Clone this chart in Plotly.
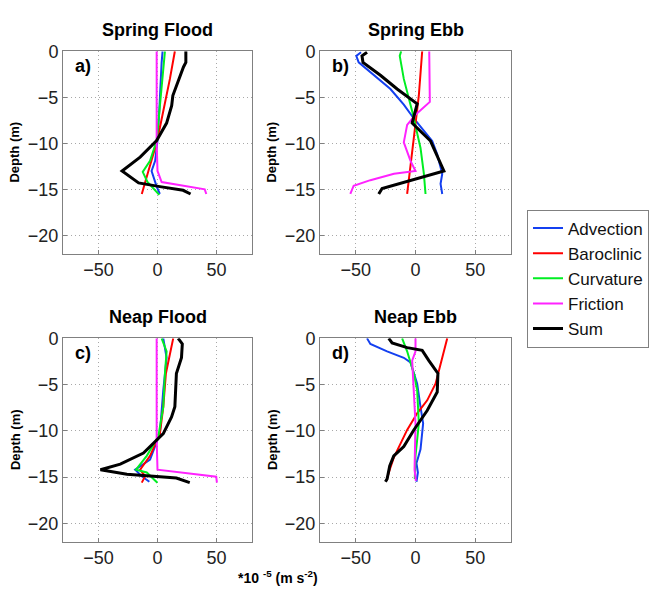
import plotly.graph_objects as go

W, H = 653, 592

# ---------------- data (x: *1e-5 m s^-2, depth: m) ----------------
# Panel a) Spring Flood
a_adv_x = [4.3, 3.5, 1.5, 0, -2, -5, -0.7, 2]
a_adv_d = [0, -1.2, -6.5, -9.7, -11.9, -13, -14.7, -15.5]
a_bar_x = [14.7, 10.5, 2, -2, -7.7, -10.5, -13.3]
a_bar_d = [0, -3, -8.3, -10.5, -13, -14.4, -15.5]
a_cur_x = [6.3, 5.5, 2, -0.7, -6.3, -12.5, -8.5, -2, 1.5]
a_cur_d = [0, -1.2, -6.5, -9.7, -11.9, -13.1, -14.2, -15.1, -15.6]
a_fri_x = [-0.7, -0.7, 0, 3.5, 40, 41.3]
a_fri_d = [0, -10, -13, -14.2, -15, -15.5]
a_sum_x = [24, 24, 22, 13, 12, 7.7, -0.7, -14.7, -30, -16, 2, 21.7, 28]
a_sum_d = [0, -1.2, -1.7, -4.8, -5.9, -7.8, -9.7, -11.5, -13, -14.3, -14.7, -15.1, -15.5]

# Panel b) Spring Ebb
b_adv_x = [-45.6, -49.6, -47.6, -37.8, -21, -9.8, -1.4, 14, 18.2, 22.4, 21, 22.4]
b_adv_d = [-0.1, -0.5, -1.2, -2.3, -4.1, -5.8, -7.3, -9.75, -11.2, -13.3, -14.4, -15.5]
b_bar_x = [5.6, 2.8, -1.4, -5.6, -7]
b_bar_d = [0, -4.8, -9.4, -14, -15.5]
b_cur_x = [-12, -13.2, -9.8, -2.8, 4.2, 7, 8.4]
b_cur_d = [0, -0.5, -3, -6.5, -10.5, -13.3, -15.5]
b_fri_x = [11.5, 12, 0, -7, -9.8, -4.2, 0, -18, -37.8, -51.8, -54.6]
b_fri_d = [0, -5.5, -6.9, -8, -9.9, -11.9, -13, -13.3, -14, -14.6, -15.5]
b_sum_x = [-40.6, -44.8, -44, -29.4, -15.4, 1.4, -2.8, 12.6, 23.8, 12.6, -15.4, -28, -30.8]
b_sum_d = [-0.1, -0.5, -1.2, -2.6, -4.1, -5.7, -7.8, -9.75, -13, -13.4, -14.4, -14.9, -15.5]

# Panel c) Neap Flood
c_adv_x = [4.9, 7.7, 4.9, 2, -6.3, -18.9, -13.3, -6.9]
c_adv_d = [0, -2.1, -5.6, -10.3, -13.1, -14.2, -14.9, -15.5]
c_bar_x = [13.3, 11, 7.1, 4.9, 2, -6.3, -14.7, -10.5, -13.3]
c_bar_d = [0, -1.4, -3.8, -7.4, -10.3, -12.7, -14.2, -14.9, -15.6]
c_cur_x = [3.5, 7.7, 6.3, 4.9, 0.7, -9.1, -18.2, -9.1, -0.1]
c_cur_d = [0, -1.4, -3.8, -7.4, -10.6, -12.7, -14.2, -14.5, -15.6]
c_fri_x = [-0.7, -0.7, 0, 49.7, 50.3]
c_fri_d = [0, -11, -14.2, -14.95, -15.6]
c_sum_x = [17.5, 21, 20.3, 16, 14.7, 11.9, 4.9, -11.9, -31.5, -48.3, -25.9, 16, 27.3]
c_sum_d = [0, -0.6, -2.1, -3.8, -7.4, -8.5, -10.3, -12.4, -13.6, -14.2, -14.7, -15.1, -15.6]

# Panel d) Neap Ebb
d_adv_x = [-40.6, -37.8, -23.8, -9.8, -4.2, 1.4, 4.2, 6.4, 4.2, 0.8, 2, 0.8]
d_adv_d = [0, -0.6, -1.4, -2.1, -2.6, -4.9, -7.4, -9.2, -12, -13.5, -14.5, -15.5]
d_bar_x = [26.6, 23.8, 20.4, 16.8, 9.8, 1.4, -7, -14, -18.2, -21.6, -24.4]
d_bar_d = [0, -1.4, -2.8, -4.9, -6.7, -8.1, -9.9, -11.7, -12.9, -14.2, -15.4]
d_cur_x = [-11.2, -7, -1.4, 1.4, 2.8, 0, -0.6]
d_cur_d = [0, -1.4, -3.8, -5.6, -9.2, -12.7, -15.2]
d_fri_x = [0, 0, -2.8, -1.4, 0, -0.8, 0.3]
d_fri_d = [0, -1.4, -2.4, -5.6, -9.2, -14.2, -15.4]
d_sum_x = [-22.4, -19.6, -7, 5.6, 11.2, 18.8, 18.2, 9.8, -1.4, -9.8, -18.2, -21.6, -23.8, -25.2]
d_sum_d = [0, -0.5, -1, -1.3, -2.4, -3.8, -5.8, -7.8, -9.9, -11.7, -12.7, -13.8, -15.2, -15.5]

series_names = ["Advection", "Baroclinic", "Curvature", "Friction", "Sum"]
panel_titles = ["Spring Flood", "Spring Ebb", "Neap Flood", "Neap Ebb"]
panel_letters = ["a)", "b)", "c)", "d)"]
x_ticks = [-50, 0, 50]
y_ticks = [-20, -15, -10, -5, 0]

panels = [
    [(a_adv_x, a_adv_d), (a_bar_x, a_bar_d), (a_cur_x, a_cur_d), (a_fri_x, a_fri_d), (a_sum_x, a_sum_d)],
    [(b_adv_x, b_adv_d), (b_bar_x, b_bar_d), (b_cur_x, b_cur_d), (b_fri_x, b_fri_d), (b_sum_x, b_sum_d)],
    [(c_adv_x, c_adv_d), (c_bar_x, c_bar_d), (c_cur_x, c_cur_d), (c_fri_x, c_fri_d), (c_sum_x, c_sum_d)],
    [(d_adv_x, d_adv_d), (d_bar_x, d_bar_d), (d_cur_x, d_cur_d), (d_fri_x, d_fri_d), (d_sum_x, d_sum_d)],
]

# ---------------- styling ----------------
colors = ["#1440f0", "#ff0000", "#00ee22", "#ff22ff", "#000000"]
widths = [2, 2, 2, 2, 3]
FONT = "Liberation Sans, Arial, sans-serif"

# panel pixel boxes (left, right, top, bottom)
boxes = [(63, 252, 42, 248), (320, 511, 42, 248), (63, 252, 334, 541), (320, 511, 334, 541)]

fig = go.Figure()
layout = dict(
    width=W, height=H,
    margin=dict(l=0, r=0, t=0, b=0),
    paper_bgcolor="white", plot_bgcolor="white",
    font=dict(family=FONT, size=18, color="#222"),
    showlegend=True,
    legend=dict(
        x=527 / W, y=1 - 203 / H, xanchor="left", yanchor="top",
        bordercolor="#808080", borderwidth=1, bgcolor="white",
        font=dict(family=FONT, size=17, color="#111"),
        itemwidth=30, tracegroupgap=0,
    ),
)
annotations = []

for p, (series, box) in enumerate(zip(panels, boxes)):
    l, r, t, b = box
    xa = "xaxis" if p == 0 else f"xaxis{p+1}"
    ya = "yaxis" if p == 0 else f"yaxis{p+1}"
    xref = "x" if p == 0 else f"x{p+1}"
    yref = "y" if p == 0 else f"y{p+1}"
    layout[xa] = dict(
        domain=[l / W, r / W], anchor=yref, range=[-80, 80],
        tickvals=x_ticks, ticks="inside", ticklen=4, tickcolor="#808080",
        showline=True, linecolor="#808080", linewidth=1, mirror=True,
        showgrid=True, gridcolor="#a8a8a8", griddash="1px,3px", gridwidth=1,
        zeroline=False, tickfont=dict(size=18, color="#222"),
    )
    layout[ya] = dict(
        domain=[1 - b / H, 1 - t / H], anchor=xref, range=[-22, 0],
        tickvals=y_ticks, ticks="inside", ticklen=4, tickcolor="#808080",
        showline=True, linecolor="#808080", linewidth=1, mirror=True,
        showgrid=True, gridcolor="#a8a8a8", griddash="1px,3px", gridwidth=1,
        zeroline=False, tickfont=dict(size=18, color="#222"),
    )
    for k, (xs, ds) in enumerate(series):
        fig.add_trace(go.Scatter(
            x=xs, y=ds, mode="lines", name=series_names[k],
            line=dict(color=colors[k], width=widths[k]),
            xaxis=xref, yaxis=yref, showlegend=(p == 0),
        ))
    cx = (l + r) / 2
    annotations.append(dict(text=f"<b>{panel_titles[p]}</b>", x=cx / W, y=1 - 20 / H if p < 2 else 1 - 312 / H,
                            xref="paper", yref="paper", showarrow=False, xanchor="center", yanchor="middle",
                            font=dict(size=18, color="#000", family=FONT)))
    annotations.append(dict(text=f"<b>{panel_letters[p]}</b>", x=(l + 10) / W, y=1 - (t + 15) / H,
                            xref="paper", yref="paper", showarrow=False, xanchor="left", yanchor="middle",
                            font=dict(size=18, color="#000", family=FONT)))
    annotations.append(dict(text="<b>Depth (m)</b>", x=(l - 48) / W, y=1 - ((t + b) / 2) / H,
                            xref="paper", yref="paper", showarrow=False, xanchor="center", yanchor="middle",
                            textangle=-90, font=dict(size=13, color="#000", family=FONT)))

annotations.append(dict(text="<b>*10 <sup>-5</sup> (m s<sup>-2</sup>)</b>", x=278 / W, y=1 - 577 / H,
                        xref="paper", yref="paper", showarrow=False, xanchor="center", yanchor="middle",
                        font=dict(size=14, color="#000", family=FONT)))
layout["annotations"] = annotations
fig.update_layout(**layout)
fig.write_html("out.html")
